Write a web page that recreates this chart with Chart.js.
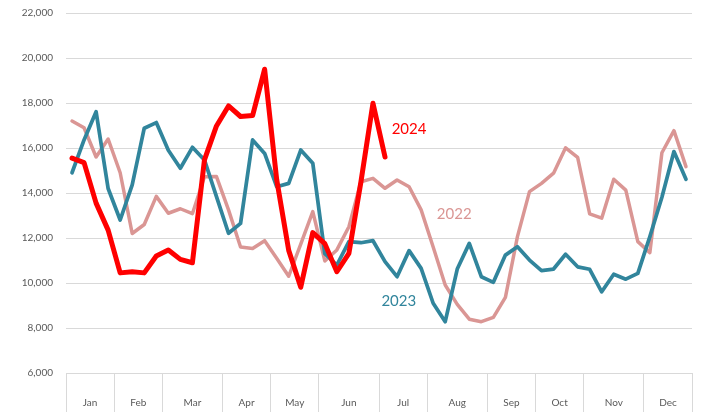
<!DOCTYPE html>
<html>
<head>
<meta charset="utf-8">
<script src="https://cdn.jsdelivr.net/npm/chart.js@4.4.0/dist/chart.umd.min.js"></script>
<style>
  html, body { margin: 0; padding: 0; background: #fff; }
  #wrap { width: 713px; height: 412px; }
</style>
</head>
<body>
<div id="wrap"><canvas id="weeklyChart"></canvas></div>
<script>
// weekly values, 52 weeks a year
let months = ['Jan', 'Feb', 'Mar', 'Apr', 'May', 'Jun', 'Jul', 'Aug', 'Sep', 'Oct', 'Nov', 'Dec'];
let monthWeeks = [4, 4, 5, 4, 4, 5, 4, 5, 4, 4, 5, 4];
let yTicks = [6000, 8000, 10000, 12000, 14000, 16000, 18000, 20000, 22000];

let values2022 = [17200, 16900, 15600, 16400, 14900, 12200, 12600, 13850, 13100, 13300, 13080, 14720, 14730,
    13250, 11600, 11530, 11880, 11100, 10300, 11730, 13170, 10980, 11470, 12500, 14500, 14650,
    14210, 14580, 14280, 13250, 11600, 9910, 9050, 8390, 8280, 8470, 9360, 12060, 14060,
    14430, 14880, 16010, 15580, 13070, 12880, 14610, 14130, 11840, 11350, 15790, 16770, 15170];
let values2023 = [14900, 16360, 17610, 14200, 12800, 14360, 16880, 17130, 15900, 15100, 16030, 15470, 13840,
    12210, 12650, 16360, 15760, 14280, 14430, 15910, 15320, 11300, 10800, 11840, 11790, 11880,
    10950, 10280, 11440, 10650, 9100, 8280, 10620, 11760, 10280, 10030, 11240, 11610, 11020,
    10550, 10620, 11280, 10720, 10610, 9610, 10390, 10170, 10430, 12060, 13810, 15840, 14610];
let values2024 = [15550, 15350, 13550, 12350, 10450, 10500, 10450, 11200, 11470, 11050, 10900, 15470, 16980,
    17870, 17400, 17440, 19500, 14600, 11450, 9810, 12240, 11750, 10500, 11320, 14500, 17990, 15600];

// month boundaries and label positions (in weeks)
let boundaries = [0];
monthWeeks.forEach(w => boundaries.push(boundaries[boundaries.length - 1] + w));
let monthCenters = months.map((m, i) => (boundaries[i] + boundaries[i + 1]) / 2);
let xTickValues = boundaries.concat(monthCenters).sort((a, b) => a - b);

function toPoints(values) {
    return values.map((v, i) => ({ x: i + 0.5, y: v }));
}

// series names written next to the lines
let seriesLabels = [
    { text: '2024', color: '#ff0000', x: 27.05, y: 16850 },
    { text: '2022', color: '#da9694', x: 30.8, y: 13070 },
    { text: '2023', color: '#31859c', x: 26.2, y: 9200 }
];

const lineLabels = {
    id: 'lineLabels',
    afterDatasetsDraw(chart) {
        const ctx = chart.ctx;
        ctx.save();
        ctx.font = '15px Lato';
        ctx.textAlign = 'left';
        ctx.textBaseline = 'middle';
        seriesLabels.forEach(l => {
            ctx.fillStyle = l.color;
            ctx.fillText(l.text, chart.scales.x.getPixelForValue(l.x), chart.scales.y.getPixelForValue(l.y));
        });
        ctx.restore();
    }
};

const tickFont = { family: 'Lato', size: 10 };

var ctx = document.getElementById('weeklyChart').getContext('2d');
var weeklyChart = new Chart(ctx, {
    type: 'line',
    data: {
        datasets: [{
            label: '2024',
            data: toPoints(values2024),
            borderColor: '#ff0000',
            borderWidth: 5
        },
        {
            label: '2023',
            data: toPoints(values2023),
            borderColor: '#31859c',
            borderWidth: 3.75
        },
        {
            label: '2022',
            data: toPoints(values2022),
            borderColor: '#da9694',
            borderWidth: 3.5
        }]
    },
    options: {
        responsive: true,
        maintainAspectRatio: false,
        animation: false,
        layout: { padding: { top: 13, right: 21, left: 0, bottom: 0 } },
        elements: {
            point: { radius: 0 },
            line: { tension: 0, borderJoinStyle: 'round', borderCapStyle: 'round', fill: false }
        },
        plugins: {
            legend: { display: false },
            tooltip: { enabled: false }
        },
        scales: {
            x: {
                type: 'linear',
                min: 0,
                max: 52,
                afterBuildTicks: s => { s.ticks = xTickValues.map(v => ({ value: v })); },
                afterFit: s => { s.height = 39; },
                border: { display: false },
                grid: {
                    drawOnChartArea: false,
                    drawTicks: true,
                    tickLength: 39,
                    lineWidth: 1,
                    color: c => (c.tick && boundaries.includes(c.tick.value)) ? '#d9d9d9' : 'rgba(0,0,0,0)'
                },
                ticks: {
                    autoSkip: false,
                    maxRotation: 0,
                    padding: -15,
                    color: '#595959',
                    font: tickFont,
                    callback: v => {
                        let i = monthCenters.indexOf(v);
                        return i >= 0 ? months[i] : '';
                    }
                }
            },
            y: {
                min: 6000,
                max: 22000,
                afterBuildTicks: s => { s.ticks = yTicks.map(v => ({ value: v })); },
                afterFit: s => {
                    s.width = 66;
                    s.paddingTop = 0;
                    s.paddingBottom = 0;
                },
                border: { display: false },
                grid: { color: '#d9d9d9', lineWidth: 1, drawTicks: false },
                ticks: {
                    padding: 13,
                    color: '#595959',
                    font: tickFont,
                    callback: v => v.toLocaleString('en-US')
                }
            }
        }
    },
    plugins: [lineLabels]
});
</script>
</body>
</html>
